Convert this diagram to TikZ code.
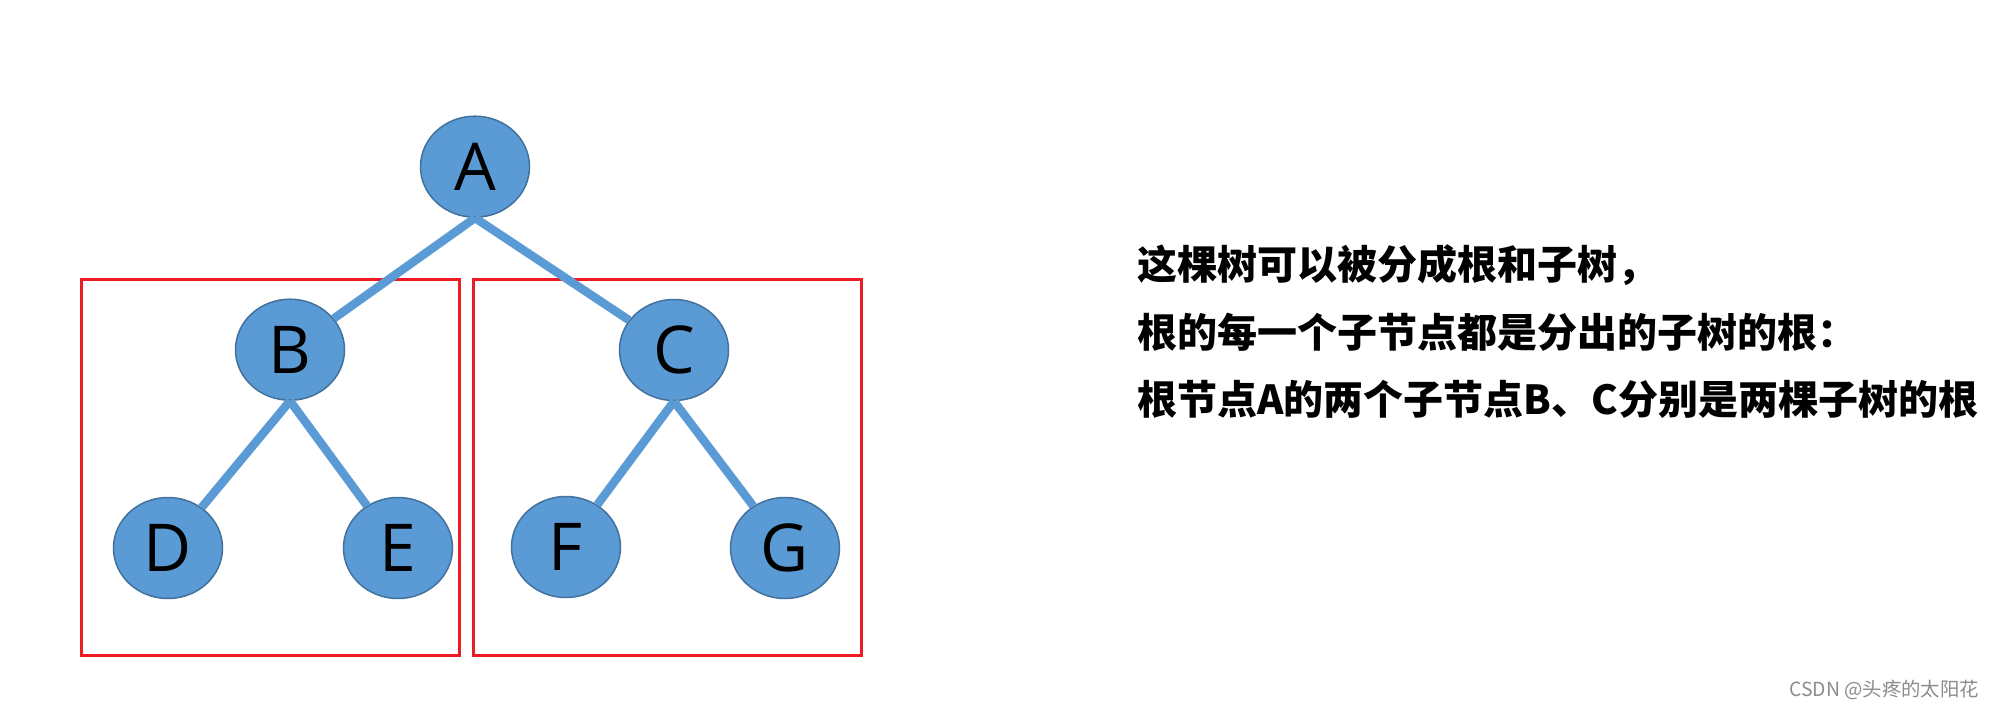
\documentclass[tikz,border=0pt]{standalone}
\usepackage{fontspec}
\setmainfont{Open Sans}
\newfontfamily\cjk{Noto Sans CJK SC}
\usetikzlibrary{shapes.geometric}
\definecolor{nodefill}{HTML}{5B9BD5}
\definecolor{nodeline}{HTML}{41719C}
\definecolor{boxred}{HTML}{ED1C24}
\tikzset{
  treenode/.style={ellipse, fill=nodefill, draw=nodeline, line width=1.5pt,
    minimum width=109pt, minimum height=101pt, inner sep=0pt,
    font=\fontsize{66}{66}\selectfont, text=black},
  edge/.style={draw=nodefill, line width=8.5pt},
  subbox/.style={draw=boxred, line width=3pt},
  caption/.style={anchor=base west, inner sep=0pt,
    font=\cjk\bfseries\fontsize{40}{40}\selectfont, text=black}
}
\begin{document}
\begin{tikzpicture}[x=1pt,y=-1pt]
\useasboundingbox (0,0) rectangle (1996,709);
\fill[white] (0,0) rectangle (1996,709);
% subtree boxes
\node[subbox, minimum width=378pt, minimum height=376pt, inner sep=0pt] (boxL) at (270,467.5) {};
\node[subbox, minimum width=388pt, minimum height=376pt, inner sep=0pt] (boxR) at (667,467.5) {};
% nodes
\node[treenode] (A) at (475,166.7) {A};
\node[treenode] (B) at (290,349.7) {B};
\node[treenode] (C) at (674,350) {C};
\node[treenode] (D) at (168,548) {D};
\node[treenode] (E) at (398,548) {E};
\node[treenode] (F) at (566,547) {F};
\node[treenode] (G) at (785,548) {G};
% edges
\draw[edge] (A.south) -- (B);
\draw[edge] (A.south) -- (C);
\draw[edge] (B.south) -- (D);
\draw[edge] (B.south) -- (E);
\draw[edge] (C.south) -- (F);
\draw[edge] (C.south) -- (G);
% text
\node[caption] (t1) at (1137,279) {这棵树可以被分成根和子树，};
\node[caption] (t2) at (1137,347) {根的每一个子节点都是分出的子树的根：};
\node[caption] (t3) at (1137,414) {根节点A的两个子节点B、C分别是两棵子树的根};
% watermark
\node[anchor=base west, inner sep=0pt, text=black!45, font=\cjk\fontsize{17}{17}\selectfont] (wm) at (1789,696) {\resizebox{190pt}{!}{CSDN @头疼的太阳花}};
\end{tikzpicture}
\end{document}
